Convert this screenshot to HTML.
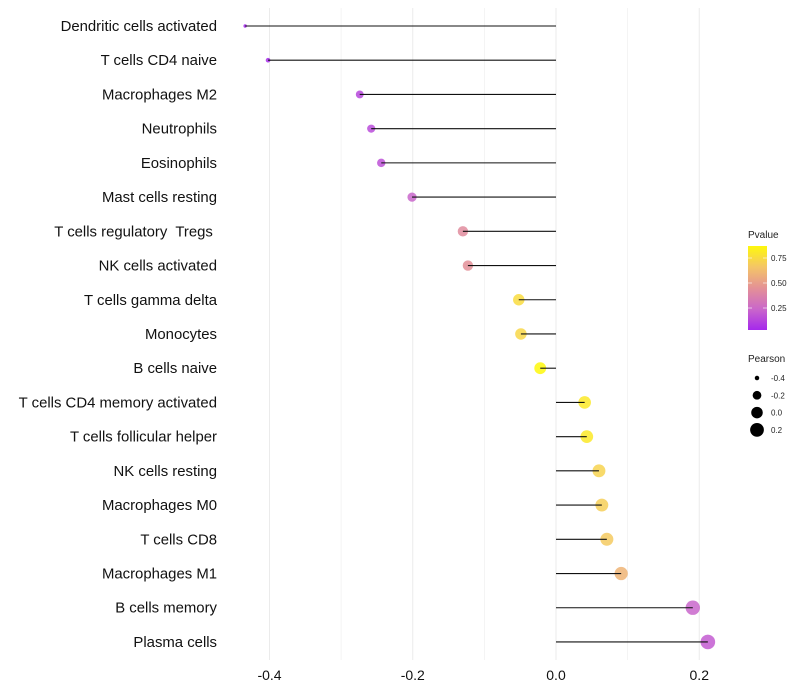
<!DOCTYPE html>
<html><head><meta charset="utf-8"><style>
body{margin:0;background:#fff;font-family:"Liberation Sans",sans-serif}
svg{display:block}
text{white-space:pre}
</style></head><body>
<svg id="chart" width="800" height="700"></svg>
<script>
const categories=["Dendritic cells activated","T cells CD4 naive","Macrophages M2","Neutrophils","Eosinophils","Mast cells resting","T cells regulatory  Tregs ","NK cells activated","T cells gamma delta","Monocytes","B cells naive","T cells CD4 memory activated","T cells follicular helper","NK cells resting","Macrophages M0","T cells CD8","Macrophages M1","B cells memory","Plasma cells"];
const pearson=[-0.434,-0.402,-0.274,-0.258,-0.244,-0.201,-0.130,-0.123,-0.052,-0.049,-0.022,0.040,0.043,0.060,0.064,0.071,0.091,0.191,0.212];
const pvalue=[0.02,0.04,0.14,0.16,0.18,0.26,0.47,0.49,0.84,0.82,0.97,0.9,0.9,0.8,0.78,0.76,0.66,0.26,0.22];
const xTicks=[-0.4,-0.2,0.0,0.2];
const xMinor=[-0.3,-0.1,0.1];
const pTicks=[0.25,0.5,0.75];
const sizeLegend=[-0.4,-0.2,0.0,0.2];

const NS="http://www.w3.org/2000/svg";
const svg=document.getElementById('chart');
function mk(t,a,p){const e=document.createElementNS(NS,t);for(const k in a)e.setAttribute(k,a[k]);(p||svg).appendChild(e);return e;}
const X=v=>556+v*716.25;
const Y=i=>26+i*34.22;
const R=v=>Math.sqrt(Math.max(2.9+(v+0.434)*78,1));
const stops=[[0,[160,32,240]],[0.25,[200,100,205]],[0.5,[228,145,150]],[0.75,[245,200,100]],[1,[255,255,0]]];
function col(p){
  p=Math.max(0,Math.min(1,p));
  let k=0;while(k<stops.length-2&&p>stops[k+1][0])k++;
  const a=stops[k],b=stops[k+1],t=(p-a[0])/(b[0]-a[0]);
  return 'rgb('+a[1].map((c,j)=>Math.round(c+(b[1][j]-c)*t)).join(',')+')';
}
xMinor.forEach(v=>{const l=mk('line',{x1:X(v),x2:X(v),y1:8,y2:660,stroke:'#f0f0f0','stroke-width':0.8});

});
xTicks.forEach(v=>{const l=mk('line',{x1:X(v),x2:X(v),y1:8,y2:660,stroke:'#ebebeb','stroke-width':1});


const t=mk('text',{x:X(v),y:680,'text-anchor':'middle','font-size':14,fill:'#111'});t.textContent=v.toFixed(1);

});
categories.forEach((c,i)=>{
  const t=mk('text',{x:217,y:Y(i)+5,'text-anchor':'end','font-size':14.9,fill:'#111'});t.textContent=c;
  
  
  const d=mk('circle',{cx:X(pearson[i]),cy:Y(i),r:R(pearson[i]),fill:col(pvalue[i]),'fill-opacity':0.85});
  
  
  const l=mk('line',{x1:X(0),x2:X(pearson[i]),y1:Y(i),y2:Y(i),stroke:'#111','stroke-width':1.1});
  
  
});
const g=mk('g',{});
const tt=mk('text',{x:748,y:238,'font-size':10,fill:'#222'},g);tt.textContent='Pvalue';
const defs=mk('defs',{},g);const lg=mk('linearGradient',{id:'pg',x1:0,y1:1,x2:0,y2:0},defs);
[0,0.25,0.5,0.75,1].forEach(o=>mk('stop',{offset:o,'stop-color':col(0.03+o*0.94)},lg));
mk('rect',{x:748,y:246,width:19,height:84,fill:'url(#pg)'},g);
pTicks.forEach(p=>{const yy=333-p*100;
mk('line',{x1:748,x2:752,y1:yy,y2:yy,stroke:'#fff','stroke-width':0.6},g);mk('line',{x1:763,x2:767,y1:yy,y2:yy,stroke:'#fff','stroke-width':0.6},g);
const t=mk('text',{x:771,y:yy+3,'font-size':8,fill:'#222'},g);t.textContent=p.toFixed(2);});
const g2=mk('g',{});
const t2=mk('text',{x:748,y:362,'font-size':10,fill:'#222'},g2);t2.textContent='Pearson';
sizeLegend.forEach((v,i)=>{const yy=378+i*17.3;mk('circle',{cx:757,cy:yy,r:R(v)*0.95,fill:'#000'},g2);
const t=mk('text',{x:771,y:yy+3,'font-size':8,fill:'#222'},g2);t.textContent=v.toFixed(1);});
</script>
</body></html>
